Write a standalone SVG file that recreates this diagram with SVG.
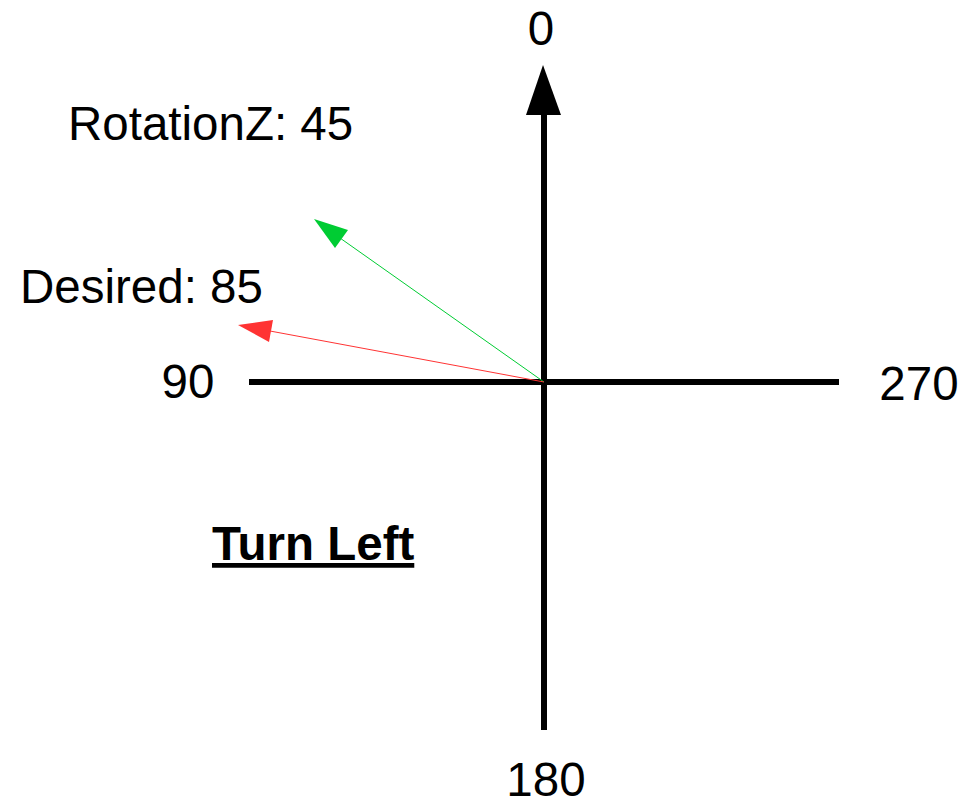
<svg xmlns="http://www.w3.org/2000/svg" width="979" height="802" viewBox="0 0 979 802">
<style>
text{font-family:"Liberation Sans",Arial,sans-serif;font-size:47.5px;fill:#000}
.axis{stroke:#000;stroke-width:6;fill:none}
</style>
<rect width="979" height="802" fill="#fff"/>
<g id="connectors">
<line class="axis" x1="544" y1="730" x2="544" y2="112"/>
<polygon points="543,65 561,115 526,115" fill="#000"/>
<line class="axis" x1="249" y1="382" x2="839" y2="382"/>
<line x1="544" y1="382" x2="340" y2="238" stroke="#00CC33" stroke-width="1"/>
<polygon points="314,219 348,230 335,248" fill="#00CC33"/>
<line x1="544" y1="382" x2="270" y2="331" stroke="#FF3333" stroke-width="1"/>
<polygon points="238,325 273,320 269,342" fill="#FF3333"/>
</g>
<g id="label-0"><text x="541" y="45" text-anchor="middle">0</text></g>
<g id="label-rotation"><text x="68" y="140">RotationZ: 45</text></g>
<g id="label-desired"><text x="20" y="303">Desired: 85</text></g>
<g id="label-90"><text x="188" y="398" text-anchor="middle">90</text></g>
<g id="label-270"><text x="919" y="400" text-anchor="middle">270</text></g>
<g id="label-180"><text x="546" y="796" text-anchor="middle">180</text></g>
<g id="label-turn"><text x="212" y="560" font-weight="bold" text-decoration="underline">Turn Left</text></g>
</svg>
